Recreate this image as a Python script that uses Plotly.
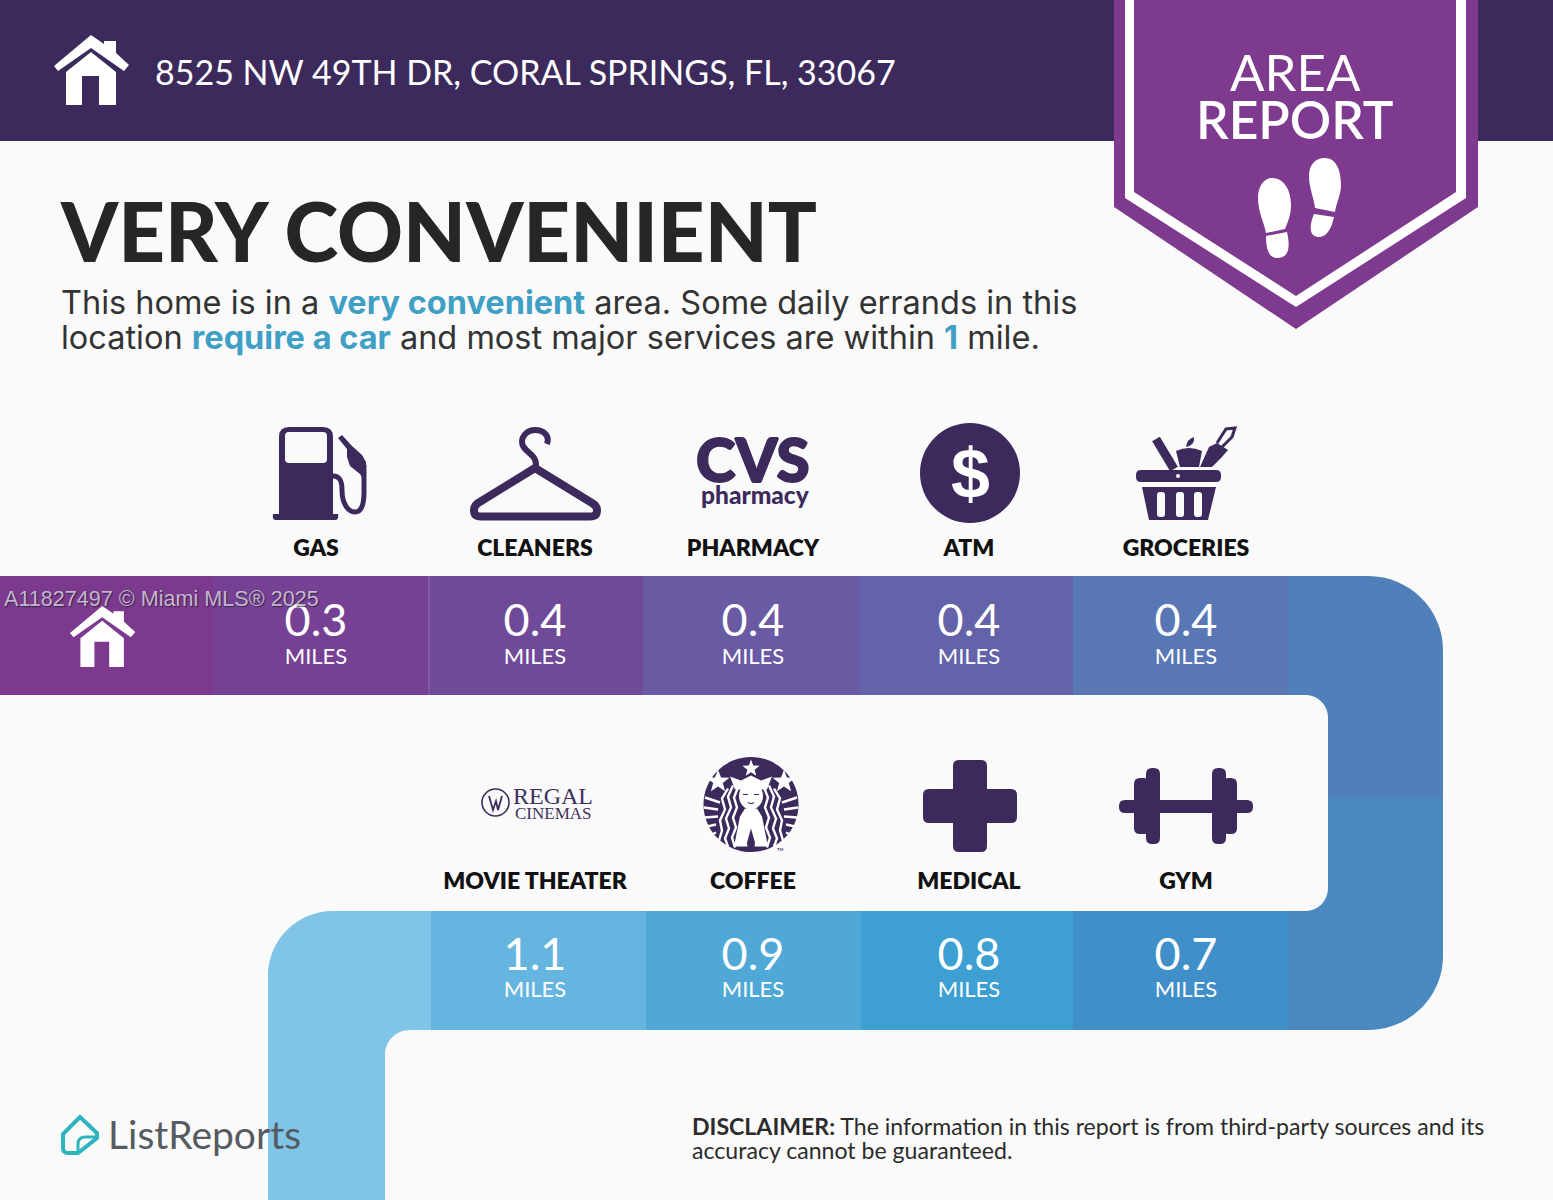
import math
import plotly.graph_objects as go

address = "8525 NW 49TH DR, CORAL SPRINGS, FL, 33067"
headline = "VERY CONVENIENT"
top_categories = ["GAS", "CLEANERS", "PHARMACY", "ATM", "GROCERIES"]
top_miles = [0.3, 0.4, 0.4, 0.4, 0.4]
bottom_categories = ["MOVIE THEATER", "COFFEE", "MEDICAL", "GYM"]
bottom_miles = [1.1, 0.9, 0.8, 0.7]

# layout of the page, in picture pixels
W, H = 1553, 1200
BG = "#fafafa"
DARK = "#3c2a5c"
PURPLE = "#7e3a8e"
BLUE_TEXT = "#3f9fc5"
top_x = [316, 535, 753, 969, 1186]
bottom_x = [535, 753, 969, 1186]
top_edges = [0, 213, 429, 643, 859, 1073, 1288]
top_colors = ["#7b3a8e", "#764194", "#6e4a98", "#6a5aa3", "#6462a8", "#5a77b5"]
bottom_edges = [431, 646, 861, 1073, 1288]
bottom_colors = ["#66b5e0", "#4fa8d6", "#3d9fd2", "#408fc8"]
SANS = "Lato"

shapes = []


def box(x0, y0, x1, y1, color):
    shapes.append(dict(type="rect", x0=x0, y0=y0, x1=x1, y1=y1, fillcolor=color,
                       line_width=0, layer="below"))


def blob(path, color):
    shapes.append(dict(type="path", path=path, fillcolor=color, line_width=0, layer="below"))


def stroke(path, color, width):
    shapes.append(dict(type="path", path=path, line=dict(color=color, width=width), layer="below"))


def rounded(x0, y0, x1, y1, r):
    return (f"M{x0 + r},{y0} L{x1 - r},{y0} Q{x1},{y0} {x1},{y0 + r} L{x1},{y1 - r} Q{x1},{y1} {x1 - r},{y1} "
            f"L{x0 + r},{y1} Q{x0},{y1} {x0},{y1 - r} L{x0},{y0 + r} Q{x0},{y0} {x0 + r},{y0} Z")


def circle(cx, cy, r, color):
    shapes.append(dict(type="circle", x0=cx - r, y0=cy - r, x1=cx + r, y1=cy + r, fillcolor=color,
                       line_width=0, layer="below"))


def star(cx, cy, r, color):
    pts = []
    for i in range(10):
        a = -math.pi / 2 + i * math.pi / 5
        rr = r if i % 2 == 0 else r * 0.42
        pts.append(f"{cx + rr * math.cos(a):.1f},{cy + rr * math.sin(a):.1f}")
    blob("M" + " L".join(pts) + " Z", color)


def house(left, top, s):
    # drawn from the header icon, 75 wide and 70 tall
    def p(x, y):
        return f"{left + (x - 54) * s:.1f},{top + (y - 35) * s:.1f}"
    blob(f"M{p(91, 35)} L{p(104, 44)} L{p(104, 41)} L{p(116, 41)} L{p(116, 53)} L{p(129, 65)} L{p(124, 71)} "
         f"L{p(91, 48)} L{p(58, 71)} L{p(54, 66)} Z", "white")
    blob(f"M{p(91, 52)} L{p(116, 72)} L{p(116, 105)} L{p(99, 105)} L{p(99, 76)} L{p(82, 76)} L{p(82, 105)} "
         f"L{p(66, 105)} L{p(66, 72)} Z", "white")


# header and banner
box(0, 0, W, 141, DARK)
house(54, 35, 1)
blob("M1114,0 L1478,0 L1478,207 L1296,329 L1114,207 Z", PURPLE)
blob("M1125,0 L1466,0 L1466,198 L1296,307 L1125,198 Z", "white")
blob("M1134,0 L1456,0 L1456,192 L1296,296 L1134,192 Z", PURPLE)
blob("M1272,178 C1284,178 1291,190 1291,205 C1291,216 1287,224 1285,229 L1266,233 "
     "C1264,222 1258,212 1258,198 C1258,186 1264,178 1272,178 Z", "white")
blob("M1266,236 L1287,232 C1290,245 1290,258 1277,258 C1268,258 1266,247 1266,236 Z", "white")
blob("M1325,158 C1336,158 1341,170 1341,185 C1341,195 1336,204 1335,212 L1315,208 "
     "C1314,198 1309,188 1309,176 C1309,165 1315,158 1325,158 Z", "white")
blob("M1314,214 L1334,217 C1332,227 1327,238 1318,237 C1309,236 1309,226 1314,214 Z", "white")

# the road
for i, c in enumerate(top_colors):
    box(top_edges[i], 576, top_edges[i + 1], 695, c)
blob("M1288,576 L1368,576 C1409,576 1443,609 1443,650 L1443,797 L1288,797 Z", "#4f80ba")
blob("M1288,797 L1443,797 L1443,956 C1443,997 1409,1030 1368,1030 L1288,1030 Z", "#4a88c0")
blob(f"M1288,695 L1305,695 C1318,695 1328,705 1328,718 L1328,888 C1328,901 1318,911 1305,911 L1288,911 Z", BG)
for i, c in enumerate(bottom_colors):
    box(bottom_edges[i], 911, bottom_edges[i + 1], 1030, c)
blob("M431,911 L333,911 C297,911 268,940 268,976 L268,1200 L385,1200 L385,1055 "
     "C385,1041 396,1030 410,1030 L431,1030 Z", "#80c4e7")
box(428.5, 576, 429.5, 695, "rgba(255,255,255,0.22)")
house(70, 606, 0.87)

# gas pump
blob("M279,514 L279,437 Q279,427 289,427 L323,427 Q333,427 333,437 L333,514 L338,514 Q339,520 335,520 "
     "L276,520 Q272,520 273,514 Z", DARK)
blob(rounded(285, 432, 327, 463, 4), BG)
stroke("M333,476 C341,476 342,483 342,490 C342,505 349,512 355,512 C362,512 364,503 364,492 L364,465", DARK, 5)
blob("M338,438 L342,435 L352,446 L362,455 L366,462 L366,484 L360,474 L350,466 L347,457 L347,449 Z", DARK)

# hanger
stroke("M547,444 C550,436 544,430 535,430 C527,430 522,436 522,442 C522,452 537,453 536,466", DARK, 6)
stroke("M535,468 L478,503 Q474,506 474,510 Q474,516.5 481,516.5 L590,516.5 Q597,516.5 597,510 "
       "Q597,506 592,503 Z", DARK, 8)

# atm
circle(970, 473, 50, DARK)

# groceries basket
blob(rounded(1136, 470, 1221, 482, 5), DARK)
circle(1178, 476, 2, BG)
blob("M1142,487 L1216,487 L1208,520 L1149,520 Z", DARK)
for x0 in [1157, 1176, 1194]:
    blob(rounded(x0, 492, x0 + 8, 517, 3), BG)
stroke("M1156,439 L1174,469", DARK, 9)
blob("M1176,451 Q1189,445 1202,451 L1199,467 L1180,467 Z", DARK)
blob("M1186,447 Q1187,439 1194,437 Q1195,445 1186,447 Z", DARK)
blob("M1200,467 L1209,447 L1217,443 L1228,450 L1221,458 L1212,467 Z", DARK)
stroke("M1217,443 L1226,429 L1235,428 L1232,437 L1222,447", DARK, 3)

# cross
blob(rounded(953, 760, 987, 852, 6), DARK)
blob(rounded(923, 789, 1017, 823, 6), DARK)

# dumbbell
blob(rounded(1119, 800, 1253, 813, 6), DARK)
for x0, y0, x1, y1 in [(1134, 778, 1150, 834), (1146, 768, 1160, 844), (1212, 768, 1226, 844), (1222, 778, 1237, 834)]:
    blob(rounded(x0, y0, x1, y1, 6), DARK)

# regal roundel
shapes.append(dict(type="circle", x0=482, y0=789, x1=509, y1=816, line=dict(color=DARK, width=1.6), layer="below"))
stroke("M489,796 L493,810 L496,801 L498,810 L502,796", DARK, 1.8)

# coffee logo, offsets from the centre of the circle
CX, CY = 751, 804.5
circle(CX, CY, 47.5, DARK)
star(CX, CY - 36, 9, "white")
blob(f"M{CX - 21},{CY - 28} L{CX - 10},{CY - 24} L{CX},{CY - 29} L{CX + 10},{CY - 24} L{CX + 21},{CY - 28} "
     f"L{CX + 16},{CY - 15} L{CX - 16},{CY - 15} Z", "white")
star(CX - 33, CY - 23, 12, "white")
star(CX + 33, CY - 23, 12, "white")
blob(f"M{CX - 6},{CY + 4} L{CX + 6},{CY + 4} L{CX + 11},{CY + 12} L{CX + 17},{CY + 42} L{CX - 17},{CY + 42} L{CX - 11},{CY + 12} Z", "white")
blob(f"M{CX - 4},{CY + 38} L{CX},{CY + 24} L{CX + 4},{CY + 38} L{CX + 3},{CY + 47} L{CX - 3},{CY + 47} Z", DARK)
strands = [
    [(13, -17), (17, -7), (14, 3), (18, 13), (15, 23), (19, 33), (16, 43)],
    [(18, -19), (23, -8), (20, 3), (25, 14), (22, 24), (26, 34), (23, 42)],
    [(23, -16), (29, -6), (26, 5), (31, 16), (29, 26), (32, 36)],
    [(31, -2), (46, -7)], [(33, 5), (47, 3)], [(33, 12), (46, 13)], [(35, 20), (44, 22)], [(35, 28), (41, 31)],
]
for sign in [-1, 1]:
    for s in strands:
        pts = [f"{CX + sign * x},{CY + y}" for x, y in s]
        stroke("M" + " L".join(pts), "white", 2.4)
shapes.append(dict(type="circle", x0=CX - 12, y0=CY - 22, x1=CX + 12, y1=CY + 5, fillcolor="white",
                   line_width=0, layer="below"))
stroke(f"M{CX - 8},{CY - 10} L{CX - 3},{CY - 10} M{CX + 3},{CY - 10} L{CX + 8},{CY - 10}", DARK, 1.2)
stroke(f"M{CX - 3},{CY - 2} Q{CX},{CY} {CX + 3},{CY - 2}", DARK, 1.2)

# listreports logo
stroke("M80,1117 L97,1133 L97,1138 L78,1153 L68,1153 Q63,1153 63,1148 L63,1134 Z", "#2db5bd", 4)
stroke("M78,1153 L78,1143 Q79,1137 85,1137 L97,1137", "#2db5bd", 3)

fig = go.Figure()
# miles values and their captions, taken from the lists at the top
fig.add_trace(go.Scatter(
    x=top_x + bottom_x, y=[625] * 5 + [959] * 4, mode="text",
    text=[f"{v:.1f}" for v in top_miles + bottom_miles], textposition="middle center",
    textfont=dict(family=SANS, size=45, color="white", weight=400), hoverinfo="skip"))
fig.add_trace(go.Scatter(
    x=top_x + bottom_x, y=[658] * 5 + [991] * 4, mode="text",
    text=["MILES"] * 9, textposition="middle center",
    textfont=dict(family=SANS, size=22, color="white", weight=400), hoverinfo="skip"))
fig.add_trace(go.Scatter(
    x=top_x + bottom_x, y=[550] * 5 + [883] * 4, mode="text",
    text=top_categories + bottom_categories, textposition="middle center",
    textfont=dict(family=SANS, size=23, color="#111111", weight=800), hoverinfo="skip"))


def label(x, y, text, size, color, weight=400, family=SANS, anchor="left", **kw):
    return dict(x=x, y=y, xref="x", yref="y", text=text, showarrow=False, xanchor=anchor, yanchor="middle",
                font=dict(family=family, size=size, color=color, weight=weight, **kw), borderpad=0, borderwidth=0)


hl = f'<span style="color:{BLUE_TEXT}"><b>%s</b></span>'
heavy = ",".join(f"{a}px {b}px 0 {DARK}" for a, b in [(1, 0), (-1, 0), (0, 1), (0, -1)])
annotations = [
    label(155, 71, address, 34, "white"),
    label(1295, 71, "AREA", 51, "white", anchor="center"),
    label(1295, 119, "REPORT", 51.5, "white", 600, anchor="center"),
    label(60, 230, headline, 81.5, "#262626", 900),
    label(61, 302, "This home is in a " + hl % "very convenient" + " area. Some daily errands in this", 32.5, "#333333", family="Inter"),
    label(61, 337, "location " + hl % "require a car" + " and most major services are within " + hl % "1" + " mile.", 32.5, "#333333", family="Inter"),
    label(753, 459, "CVS", 60, DARK, 900, anchor="center", shadow=heavy),
    label(755, 494, "pharmacy", 24.5, DARK, 900, anchor="center"),
    label(970, 474, "$", 70, "white", 700, "Liberation Sans", "center"),
    label(553, 796, "REGAL", 24, "#40305f", 400, "Liberation Serif", "center"),
    label(553, 813, "CINEMAS", 17, "#40305f", 400, "Liberation Serif", "center"),
    label(780, 849, "TM", 4, DARK, 700, anchor="center"),
    label(108, 1134, "ListReports", 39, "#555b60", 400),
    label(692, 1126, "<b>DISCLAIMER:</b> The information in this report is from third-party sources and its", 23.1, "#2b2b2b"),
    label(692, 1150, "accuracy cannot be guaranteed.", 23.1, "#2b2b2b"),
    label(4, 598, "A11827497 © Miami MLS® 2025", 21.6, "rgba(215,210,225,0.85)", 400, "Liberation Sans",
          shadow="1px 1px 1px rgba(30,20,40,0.8)"),
]

fig.update_layout(
    width=W, height=H, margin=dict(l=0, r=0, t=0, b=0), showlegend=False,
    paper_bgcolor=BG, plot_bgcolor=BG, shapes=shapes, annotations=annotations,
    xaxis=dict(range=[0, W], visible=False, fixedrange=True),
    yaxis=dict(range=[H, 0], visible=False, fixedrange=True),
)
fig.write_html("out.html", config={"displayModeBar": False},
               post_script="document.body.style.margin='0';document.body.style.overflow='hidden';")
